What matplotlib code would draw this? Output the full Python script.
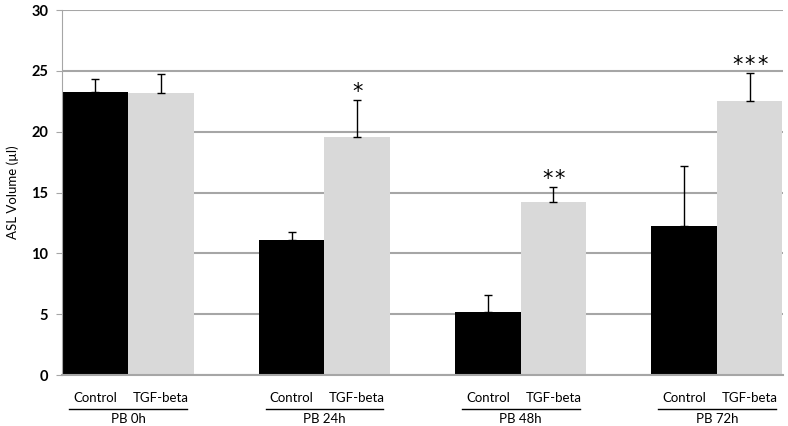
import numpy as np
import matplotlib
matplotlib.use('Agg')
import matplotlib.pyplot as plt
from matplotlib.transforms import blended_transform_factory

plt.rcParams['font.family'] = ['Lato', 'DejaVu Sans']

groups = ['PB 0h', 'PB 24h', 'PB 48h', 'PB 72h']
series = ['Control', 'TGF-beta']
control = [23.25, 11.1, 5.2, 12.25]
control_err = [1.05, 0.65, 1.4, 4.95]
tgf = [23.2, 19.55, 14.25, 22.5]
tgf_err = [1.5, 3.05, 1.2, 2.35]
stars = [0, 1, 2, 3]

fig = plt.figure(figsize=(7.88, 4.26), dpi=100)
ax = fig.add_axes([0.0787, 0.1197, 0.915, 0.8568])

x = np.arange(len(groups))
w = 0.334
grid_c = '#a6a6a6'

ax.bar(x - w / 2, control, w, color='black', zorder=2,
       yerr=[np.zeros(len(control)), control_err], capsize=3,
       error_kw=dict(ecolor='black', elinewidth=1, capthick=1))
ax.bar(x + w / 2, tgf, w, color='#d9d9d9', zorder=2,
       yerr=[np.zeros(len(tgf)), tgf_err], capsize=3,
       error_kw=dict(ecolor='black', elinewidth=1, capthick=1))

# significance stars above the TGF-beta bars, spaced out a little
for i, n in enumerate(stars):
    for k in range(n):
        dx = (k - (n - 1) / 2) * 9
        ax.annotate('*', xy=(x[i] + w / 2, tgf[i] + tgf_err[i]),
                    xytext=(dx, 1.5), textcoords='offset points',
                    ha='center', va='baseline', fontsize=15,
                    family='DejaVu Sans')

ax.set_ylim(0, 30)
ax.set_xlim(-0.337, len(groups) - 1 + 0.337)
ax.set_yticks(np.arange(0, 31, 5))
ax.tick_params(axis='y', labelsize=10.5, length=4, color=grid_c, pad=6)
for lab in ax.get_yticklabels():
    lab.set_fontweight('bold')
ax.set_xticks([])
ax.yaxis.grid(True, color=grid_c, lw=1.5, zorder=0)
ax.set_axisbelow(True)
for side in ['top', 'right']:
    ax.spines[side].set_visible(False)
ax.spines['left'].set_color(grid_c)
ax.spines['bottom'].set_color(grid_c)
ax.spines['bottom'].set_linewidth(1.5)

ax.set_ylabel('ASL Volume (µl)', fontsize=9.5, labelpad=9)

# two level category labels
trans = blended_transform_factory(ax.transData, ax.transAxes)
for i, g in enumerate(groups):
    ax.text(x[i] - w / 2, -0.063, series[0], transform=trans,
            ha='center', va='center', fontsize=9.5)
    ax.text(x[i] + w / 2, -0.063, series[1], transform=trans,
            ha='center', va='center', fontsize=9.5)
    ax.plot([x[i] - 0.30, x[i] + 0.30], [-0.092, -0.092], transform=trans,
            color='black', lw=1, clip_on=False)
    ax.text(x[i], -0.121, g, transform=trans, ha='center', va='center',
            fontsize=9.5)

fig.savefig('out.png', dpi=100)
